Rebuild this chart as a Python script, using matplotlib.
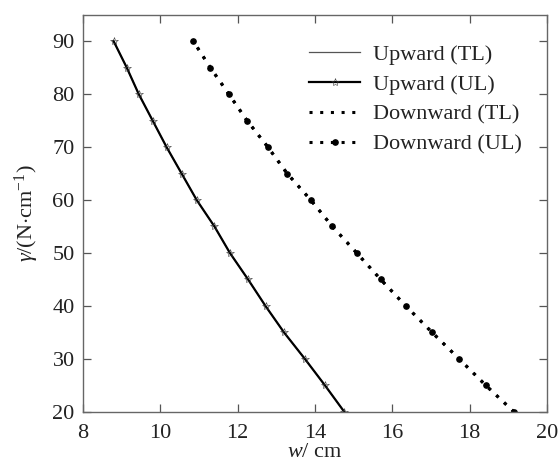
import matplotlib
matplotlib.use("Agg")
import matplotlib.pyplot as plt

plt.rcParams['font.family'] = ['Liberation Serif', 'DejaVu Serif']
plt.rcParams['mathtext.fontset'] = 'custom'
plt.rcParams['mathtext.rm'] = 'Liberation Serif'
plt.rcParams['mathtext.it'] = 'Liberation Serif:italic'

gamma = [20, 25, 30, 35, 40, 45, 50, 55, 60, 65, 70, 75, 80, 85, 90]
up_tl = [14.76, 14.26, 13.74, 13.20, 12.72, 12.27, 11.80, 11.40, 10.94, 10.55, 10.16, 9.80, 9.44, 9.13, 8.79]
up_ul = [14.76, 14.26, 13.74, 13.20, 12.72, 12.27, 11.80, 11.40, 10.94, 10.55, 10.16, 9.80, 9.44, 9.13, 8.79]
down_tl = [19.15, 18.42, 17.73, 17.03, 16.35, 15.70, 15.08, 14.45, 13.89, 13.28, 12.78, 12.24, 11.77, 11.29, 10.85]
down_ul = [19.15, 18.42, 17.73, 17.03, 16.35, 15.70, 15.08, 14.45, 13.89, 13.28, 12.78, 12.24, 11.77, 11.29, 10.85]
xticks = [8, 10, 12, 14, 16, 18, 20]
yticks = [20, 30, 40, 50, 60, 70, 80, 90]

fig = plt.figure(figsize=(5.59, 4.76), dpi=100)
ax = fig.add_axes([0.1485, 0.1345, 0.83, 0.835])

ax.plot(up_tl, gamma, color='#555555', lw=0.9, label='Upward (TL)')
ax.plot(up_ul, gamma, color='black', lw=1.6, marker='*', ms=6, mew=0.4,
        mfc='none', mec='#333333', label='Upward (UL)')
ax.plot(down_tl, gamma, color='black', lw=2.2, linestyle=(0, (1, 2.5)),
        label='Downward (TL)')
ax.plot(down_ul, gamma, color='black', lw=2.2, linestyle=(0, (1, 2.5)),
        marker='o', ms=3.8, label='Downward (UL)')

ax.set_xlim(8, 20)
ax.set_ylim(20, 95)
ax.set_xticks(xticks)
ax.set_yticks(yticks)
ax.tick_params(direction='in', length=6, width=0.9, labelsize=16,
               top=True, right=True, colors='#555555', labelcolor='#222222')
ax.tick_params(axis='x', pad=9)
ax.tick_params(axis='y', pad=6)
for s in ax.spines.values():
    s.set_color('#666666')
    s.set_linewidth(1.0)

ax.set_xlabel(r'$w$/ cm', fontsize=16, color='#222222', labelpad=0)
ax.set_ylabel(r'$\gamma$/(N$\cdot$cm$^{-1}$)', fontsize=16, color='#222222', labelpad=8)

leg = ax.legend(loc='upper right', frameon=False, fontsize=16,
                handlelength=2.3, handletextpad=0.6, labelspacing=0.42,
                bbox_to_anchor=(0.99, 0.975))
for t in leg.get_texts():
    t.set_color('#222222')

fig.savefig('out.png', dpi=100)
